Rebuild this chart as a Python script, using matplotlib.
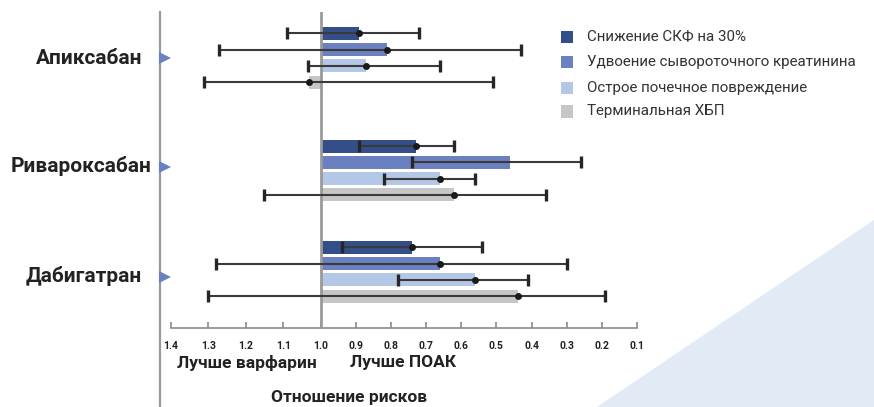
import matplotlib
matplotlib.use("Agg")
import matplotlib.pyplot as plt
from matplotlib.patches import Polygon, Rectangle
from matplotlib.lines import Line2D
import numpy as np

plt.rcParams['font.family'] = ['Roboto', 'DejaVu Sans']

drugs = ["Апиксабан", "Ривароксабан", "Дабигатран"]
outcomes = ["Снижение СКФ на 30%", "Удвоение сывороточного креатинина",
            "Острое почечное повреждение", "Терминальная ХБП"]
# hazard ratios [drug][outcome]
hr = [[0.89, 0.81, 0.87, 1.03],
      [0.73, 0.46, 0.66, 0.62],
      [0.74, 0.66, 0.56, 0.44]]
ci_low = [[0.72, 0.43, 0.66, 0.51],
          [0.62, 0.26, 0.56, 0.36],
          [0.54, 0.30, 0.41, 0.19]]
ci_high = [[1.09, 1.27, 1.035, 1.31],
           [0.89, 0.74, 0.82, 1.15],
           [0.94, 1.28, 0.78, 1.30]]
show_point = [[True, True, True, True],
              [True, False, True, True],
              [True, True, True, True]]
xticks = [1.4, 1.3, 1.2, 1.1, 1.0, 0.9, 0.8, 0.7, 0.6, 0.5, 0.4, 0.3, 0.2, 0.1]
xtick_labels = ["1.4", "1.3", "1.2", "1.1", "1.0", "0.9", "0.8", "0.7", "0.6",
                "0.5", "0.4", "0.3", "0.2", "0.1"]

colors = ["#344e89", "#6b80c0", "#b5c7e7", "#c6c6c6"]

W, H = 874, 407
fig = plt.figure(figsize=(W / 100, H / 100), dpi=100)

# background triangle
fig.patches.append(Polygon([(596.7 / W, 0), (1, 0), (1, (H - 220) / H)],
                           closed=True, transform=fig.transFigure,
                           facecolor="#e1eaf5", edgecolor="none", zorder=0))

# axes: x in HR units (piecewise-linear scale, as in the original), y in pixel rows
x0, x1 = 170.7, 637.0
ytop, ybot = 12.0, 328.3
ax = fig.add_axes([x0 / W, (H - ybot) / H, (x1 - x0) / W, (ybot - ytop) / H])
ax.patch.set_alpha(0)

K_LEFT, K_RIGHT = 37.5, 35.15


def fwd(x):
    x = np.asarray(x, dtype=float)
    return np.where(x >= 1.0, (x - 1.0) * K_LEFT, (x - 1.0) * K_RIGHT)


def inv(u):
    u = np.asarray(u, dtype=float)
    return np.where(u >= 0.0, 1.0 + u / K_LEFT, 1.0 + u / K_RIGHT)


ax.set_xscale("function", functions=(fwd, inv))
ax.set_xlim(1.4, 0.1)
ax.set_ylim(ybot, ytop)

group_centers = [57.7, 170.5, 271.7]
offsets = [-24.4, -8.15, 8.15, 24.4]
bar_h = 13

for g, drug in enumerate(drugs):
    for k in range(4):
        y = group_centers[g] + offsets[k]
        v = hr[g][k]
        ax.barh(y, v - 1.0, left=1.0, height=bar_h, color=colors[k],
                edgecolor="none", zorder=2)
        lo, hi = ci_low[g][k], ci_high[g][k]
        ax.plot([lo, hi], [y, y], color="#3a3a3a", lw=1.5, zorder=4,
                solid_capstyle="butt")
        ax.plot([lo, hi], [y, y], color="#262626", lw=0, marker="|",
                markersize=8, markeredgewidth=2.4, zorder=5)
        if show_point[g][k]:
            ax.plot([v], [y], "o", color="#1a1a1a", markersize=4, zorder=6)

ax.axvline(1.0, color="#9a9a9a", lw=2, zorder=3)

for s in ["top", "right", "left"]:
    ax.spines[s].set_visible(False)
ax.spines["bottom"].set_color("#8a8a8a")
ax.spines["bottom"].set_linewidth(1.2)
ax.set_yticks([])
ax.set_xticks(xticks)
ax.set_xticklabels(xtick_labels, fontweight="bold", fontsize=7.5, color="#222222")
ax.xaxis.set_minor_locator(matplotlib.ticker.NullLocator())
ax.tick_params(axis="x", direction="in", length=4, width=1.2, color="#8a8a8a", pad=9)

# left vertical line
fig.add_artist(Line2D([160 / W, 160 / W], [0, (H - 12) / H], color="#9a9a9a",
                      lw=1.6, transform=fig.transFigure))

# drug labels and triangles
label_x = [142, 152, 142]
label_y = [58.3, 166.5, 276.5]
for g, drug in enumerate(drugs):
    fig.text(label_x[g] / W, (H - label_y[g]) / H, drug, ha="right", va="center",
             fontsize=15, fontweight="bold", color="#222222")
    fig.add_artist(Line2D([164.5 / W], [(H - label_y[g]) / H], marker=">",
                          markersize=9, color="#6b80c0", markeredgewidth=0,
                          linestyle="none", transform=fig.transFigure))

fig.text(246.7 / W, (H - 362.7) / H, "Лучше варфарин", ha="center", va="center",
         fontsize=12.5, fontweight="bold", color="#222222")
fig.text(402.5 / W, (H - 362.7) / H, "Лучше ПОАК", ha="center", va="center",
         fontsize=12.5, fontweight="bold", color="#222222")
fig.text(349 / W, (H - 397.5) / H, "Отношение рисков", ha="center", va="center",
         fontsize=12.5, fontweight="bold", color="#222222")

# legend (manual)
leg_rows = [36.7, 62.3, 87.9, 111.5]
for k, name in enumerate(outcomes):
    yc = leg_rows[k]
    fig.patches.append(Rectangle(((561) / W, (H - yc - 6) / H), 12 / W, 12 / H,
                                 transform=fig.transFigure, facecolor=colors[k],
                                 edgecolor="none"))
    fig.text(587 / W, (H - yc) / H, name, ha="left", va="center",
             fontsize=10.9, fontweight="normal", color="#333333")

fig.savefig("out.png", dpi=100)
